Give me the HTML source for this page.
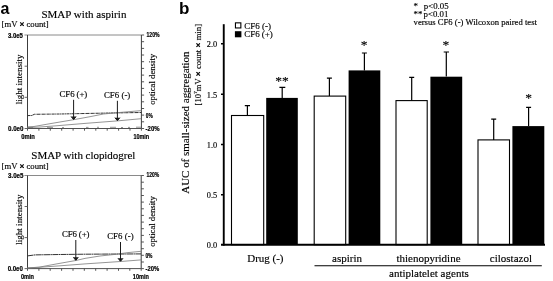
<!DOCTYPE html>
<html>
<head>
<meta charset="utf-8">
<style>
html,body{margin:0;padding:0;background:#fff;}
body{width:553px;height:281px;overflow:hidden;}
svg{display:block;}
text{font-family:"Liberation Serif",serif;fill:#000;stroke:#000;stroke-width:0.15px;}
.ss{font-family:"Liberation Sans",sans-serif;font-weight:bold;stroke-width:0.2px;}
.x{font-weight:bold;stroke-width:0.45px;}
.big{stroke:none;}
</style>
</head>
<body>
<svg width="553" height="281" viewBox="0 0 553 281">
<defs><filter id="soft" x="0" y="0" width="100%" height="100%" filterUnits="userSpaceOnUse" color-interpolation-filters="sRGB"><feGaussianBlur stdDeviation="0.40"/></filter></defs>
<rect width="553" height="281" fill="#fff"/>
<g filter="url(#soft)">
<rect width="553" height="281" fill="#fff"/>
<!-- PANEL A (top) -->
<g id="pa1">
<text class="ss" x="7.9" y="38.0" font-size="6.7" textLength="15.0" lengthAdjust="spacingAndGlyphs">3.0e5</text>
<text class="ss" x="8.0" y="131.1" font-size="6.7" textLength="15.5" lengthAdjust="spacingAndGlyphs">0.0e0</text>
<text class="ss" x="21.3" y="138.8" font-size="6.7" textLength="13.6" lengthAdjust="spacingAndGlyphs">0min</text>
<text class="ss" x="133.4" y="138.7" font-size="6.7" textLength="15.8" lengthAdjust="spacingAndGlyphs">10min</text>
<text class="ss" x="146.5" y="37.0" font-size="6.7" textLength="13.1" lengthAdjust="spacingAndGlyphs">120%</text>
<text class="ss" x="145.8" y="117.7" font-size="6.7" textLength="6.9" lengthAdjust="spacingAndGlyphs">0%</text>
<text class="ss" x="145.6" y="130.9" font-size="6.7" textLength="14.0" lengthAdjust="spacingAndGlyphs">-20%</text>

<text class="ss big" x="0.4" y="13.6" font-size="16">a</text>
<text x="41.4" y="17.7" font-size="11" textLength="85" lengthAdjust="spacing">SMAP with aspirin</text>
<text x="1.6" y="27.4" font-size="8.7" textLength="47" lengthAdjust="spacing">[mV <tspan class="x">×</tspan> count]</text>
<text transform="translate(22.0,104.2) rotate(-90)" font-size="9" textLength="49.6" lengthAdjust="spacing">light intensity</text>
<text transform="translate(154.7,104.8) rotate(-90)" font-size="8.7" textLength="51" lengthAdjust="spacing">optical density</text>
<text x="59.6" y="96.6" font-size="8.8" textLength="27.6" lengthAdjust="spacing">CF6 (+)</text>
<text x="103.9" y="98.2" font-size="8.8" textLength="26.4" lengthAdjust="spacing">CF6 (-)</text>
<g fill="none">
<path d="M24.4 35.0H141.4" stroke="#8a8a8a" stroke-width="1"/>
<path d="M27.5 35.0V128.5M141.4 35.0V128.5" stroke="#3c3c3c" stroke-width="1"/>
<path d="M27.5 128.5H141.4" stroke="#505050" stroke-width="1"/>
<path d="M27.5 66.2h-2.9M27.5 97.3h-2.9M27.5 128.5h-2.9" stroke="#555" stroke-width="0.9"/>
<path d="M141.4 35.0h2.7M141.4 41.7h2.7M141.4 48.4h2.7M141.4 55.0h2.7M141.4 61.7h2.7M141.4 68.4h2.7M141.4 75.1h2.7M141.4 81.8h2.7M141.4 88.4h2.7M141.4 95.1h2.7M141.4 101.8h2.7M141.4 108.5h2.7M141.4 115.1h2.7M141.4 121.8h2.7M141.4 128.5h2.7" stroke="#444" stroke-width="0.9"/>
<path d="M27.5 128.5v2.2M38.9 128.5v2.2M50.3 128.5v2.2M61.7 128.5v2.2M73.1 128.5v2.2M84.5 128.5v2.2M95.8 128.5v2.2M107.2 128.5v2.2M118.6 128.5v2.2M130.0 128.5v2.2M141.4 128.5v2.2" stroke="#444" stroke-width="0.9"/>
</g>
<g fill="none">
<path d="M27.5 115.6L31.8 115.5L34.3 114.3L60 114L85 113.5L110 113L141.4 112.5" stroke="#333" stroke-width="1" stroke-dasharray="3 0.45 1 0.45"/>
<path d="M27.5 126.8L34 126.5L50 123.7L73.6 119.7L90 116.7L103.5 114L115 112.9L141.4 110.6" stroke="#7a7a7a" stroke-width="0.8"/>
<path d="M27.5 127.6L40 127L55 125.9L85 123.4L117.4 120.9L141.2 118.7" stroke="#7a7a7a" stroke-width="0.8"/>
<path d="M27.5 127.5H33M47 127.4H53M62 127.6H64M86 127.4H88.5M97 127.3H99M110 127.3H116M121 127.5H123M128 127.4H130M136 127.2H141" stroke="#777" stroke-width="0.8"/>
</g>
<path d="M73.6 99.8V119.1" stroke="#1a1a1a" stroke-width="1" fill="none"/><path d="M71.1 116.6L73.6 119.6L76.1 116.6" stroke="#1a1a1a" stroke-width="1" fill="#1a1a1a" stroke-linejoin="miter"/>
<path d="M117.4 100.8V120.2" stroke="#1a1a1a" stroke-width="1" fill="none"/><path d="M114.9 117.7L117.4 120.7L119.9 117.7" stroke="#1a1a1a" stroke-width="1" fill="#1a1a1a" stroke-linejoin="miter"/>
</g>
<!-- PANEL A (bottom) -->
<g id="pa2">
<text class="ss" x="8.0" y="178.2" font-size="6.7" textLength="15.5" lengthAdjust="spacingAndGlyphs">3.0e5</text>
<text class="ss" x="7.7" y="271.4" font-size="6.7" textLength="15.2" lengthAdjust="spacingAndGlyphs">0.0e0</text>
<text class="ss" x="20.9" y="279.1" font-size="6.7" textLength="13.1" lengthAdjust="spacingAndGlyphs">0min</text>
<text class="ss" x="132.8" y="279.1" font-size="6.7" textLength="16.0" lengthAdjust="spacingAndGlyphs">10min</text>
<text class="ss" x="146.5" y="177.4" font-size="6.7" textLength="12.8" lengthAdjust="spacingAndGlyphs">120%</text>
<text class="ss" x="145.4" y="257.9" font-size="6.7" textLength="7.1" lengthAdjust="spacingAndGlyphs">0%</text>
<text class="ss" x="145.6" y="271.1" font-size="6.7" textLength="13.7" lengthAdjust="spacingAndGlyphs">-20%</text>

<text x="31.3" y="159" font-size="11" textLength="104" lengthAdjust="spacing">SMAP with clopidogrel</text>
<text x="1.6" y="169" font-size="8.7" textLength="47" lengthAdjust="spacing">[mV <tspan class="x">×</tspan> count]</text>
<text transform="translate(22.0,244.8) rotate(-90)" font-size="9" textLength="50.2" lengthAdjust="spacing">light intensity</text>
<text transform="translate(154.7,246.8) rotate(-90)" font-size="8.7" textLength="50.6" lengthAdjust="spacing">optical density</text>
<text x="61.9" y="237.4" font-size="8.8" textLength="27.6" lengthAdjust="spacing">CF6 (+)</text>
<text x="107.2" y="239.4" font-size="8.8" textLength="26.4" lengthAdjust="spacing">CF6 (-)</text>
<g fill="none">
<path d="M24.4 175.5H141.2" stroke="#8a8a8a" stroke-width="1"/>
<path d="M27.5 175.5V268.6M141.2 175.5V268.6" stroke="#3c3c3c" stroke-width="1"/>
<path d="M27.5 268.6H141.2" stroke="#505050" stroke-width="1"/>
<path d="M27.5 206.5h-2.9M27.5 237.6h-2.9M27.5 268.6h-2.9" stroke="#555" stroke-width="0.9"/>
<path d="M141.2 175.5h2.7M141.2 182.2h2.7M141.2 188.8h2.7M141.2 195.5h2.7M141.2 202.1h2.7M141.2 208.8h2.7M141.2 215.4h2.7M141.2 222.1h2.7M141.2 228.7h2.7M141.2 235.4h2.7M141.2 242.0h2.7M141.2 248.7h2.7M141.2 255.3h2.7M141.2 262.0h2.7M141.2 268.6h2.7" stroke="#444" stroke-width="0.9"/>
<path d="M27.5 268.6v2.2M38.9 268.6v2.2M50.2 268.6v2.2M61.6 268.6v2.2M73.0 268.6v2.2M84.3 268.6v2.2M95.7 268.6v2.2M107.1 268.6v2.2M118.5 268.6v2.2M129.8 268.6v2.2M141.2 268.6v2.2" stroke="#444" stroke-width="0.9"/>
</g>
<g fill="none">
<path d="M27.5 255.9L35 254.9L60 254.5L85 254.2L141.2 253.9" stroke="#333" stroke-width="1" stroke-dasharray="6 0.4 1.5 0.4"/>
<path d="M27.5 267.9L39 267.2L55 264.2L75.8 260.5L85 258.4L100 256L115 254.4L128 252.6L141.1 251.3" stroke="#7a7a7a" stroke-width="0.8"/>
<path d="M27.5 267.9L39 267.3L60 265.8L85 263.9L120.5 261.5L141.1 259.9" stroke="#7a7a7a" stroke-width="0.8"/>
</g>
<path d="M75.8 240.0V259.8" stroke="#1a1a1a" stroke-width="1" fill="none"/><path d="M73.3 257.3L75.8 260.3L78.3 257.3" stroke="#1a1a1a" stroke-width="1" fill="#1a1a1a" stroke-linejoin="miter"/>
<path d="M120.5 242.0V260.8" stroke="#1a1a1a" stroke-width="1" fill="none"/><path d="M118.0 258.3L120.5 261.3L123.0 258.3" stroke="#1a1a1a" stroke-width="1" fill="#1a1a1a" stroke-linejoin="miter"/>
</g>
<!-- PANEL B -->
<g id="pb">
<text class="ss big" x="179.0" y="14.2" font-size="17">b</text>
<rect x="235.45" y="22.85" width="5.4" height="5.1" fill="#fff" stroke="#000" stroke-width="1.1"/>
<rect x="234.9" y="31.2" width="6.5" height="6.1" fill="#000"/>
<text x="244.3" y="28.6" font-size="9" textLength="26.6" lengthAdjust="spacing">CF6 (-)</text>
<text x="244.3" y="37.3" font-size="9" textLength="28.4" lengthAdjust="spacing">CF6 (+)</text>
<text x="413.6" y="8.6" font-size="8.8">*</text>
<text x="423.8" y="8.6" font-size="8.8">p&lt;0.05</text>
<text x="413.6" y="16.8" font-size="8.8">**</text>
<text x="423.6" y="16.8" font-size="8.8">p&lt;0.01</text>
<text x="413.6" y="25.3" font-size="8.6" textLength="123.3" lengthAdjust="spacing">versus CF6 (-) Wilcoxon paired test</text>
<text transform="translate(189.2,193.8) rotate(-90)" font-size="11" textLength="142.4" lengthAdjust="spacing">AUC of small-sized aggregation</text>
<text transform="translate(200.6,105.4) rotate(-90)" font-size="8.5" textLength="81.4" lengthAdjust="spacing">[10<tspan font-size="5" dy="-3.4">7</tspan><tspan dy="3.4">mV <tspan class="x">×</tspan> count <tspan class="x">×</tspan> min]</tspan></text>
<text x="206.8" y="47" font-size="8.3">2.0</text>
<text x="206.8" y="97.5" font-size="8.3">1.5</text>
<text x="206.8" y="147.7" font-size="8.3">1.0</text>
<text x="206.8" y="198" font-size="8.3">0.5</text>
<text x="206.8" y="248" font-size="8.3">0.0</text>
<g fill="#000">
<rect x="266.2" y="97.9" width="31.6" height="146.8"/>
<rect x="348.6" y="70.4" width="31.7" height="174.3"/>
<rect x="430.4" y="76.7" width="31.8" height="168.0"/>
<rect x="512.4" y="126.1" width="31.9" height="118.6"/>
</g>
<g stroke="#000" stroke-width="1.1" fill="#fff">
<rect x="231.5" y="115.5" width="32.2" height="129.2"/>
<rect x="314.2" y="96.1" width="31.5" height="148.6"/>
<rect x="396.0" y="100.6" width="31.2" height="144.1"/>
<rect x="478.0" y="139.9" width="31.5" height="104.8"/>
</g>
<g stroke="#000" stroke-width="1.2" fill="none">
<path d="M247.4 115.5V105.6M244.8 105.6H250.0"/>
<path d="M282.2 98.0V87.3M279.4 87.3H285.3"/>
<path d="M329.4 96.0V78.2M326.9 78.2H331.9"/>
<path d="M364.4 70.5V53.0M361.9 53.0H366.9"/>
<path d="M411.7 100.5V77.4M409.2 77.4H414.2"/>
<path d="M446.3 76.5V52.0M443.7 52.0H449.0"/>
<path d="M493.7 140.0V119.2M491.2 119.2H496.2"/>
<path d="M528.6 126.0V107.4M526.1 107.4H531.1"/>
</g>
<text x="282.1" y="85.4" font-size="13.5" text-anchor="middle">**</text>
<text x="364.2" y="49.4" font-size="13.5" text-anchor="middle">*</text>
<text x="445.8" y="49.2" font-size="13.5" text-anchor="middle">*</text>
<text x="528.6" y="101.8" font-size="13.5" text-anchor="middle">*</text>
<g stroke="#000" fill="none">
<path d="M223.75 24.2V245.7" stroke-width="1.9"/>
<path d="M221 244.7H545" stroke-width="2"/>
<path d="M221 43.8H223.8M221 94.2H223.8M221 144.5H223.8M221 194.7H223.8" stroke-width="1.5"/>
</g>
<text x="247.2" y="261.8" font-size="11">Drug (-)</text>
<text x="332" y="261.8" font-size="11">aspirin</text>
<text x="396.4" y="261.8" font-size="11">thienopyridine</text>
<text x="489.8" y="261.8" font-size="11">cilostazol</text>
<path d="M314.5 265.7H541.8" stroke="#000" stroke-width="1.1"/>
<text x="389" y="276.8" font-size="11">antiplatelet agents</text>
</g>
</g>
</svg>
</body>
</html>
